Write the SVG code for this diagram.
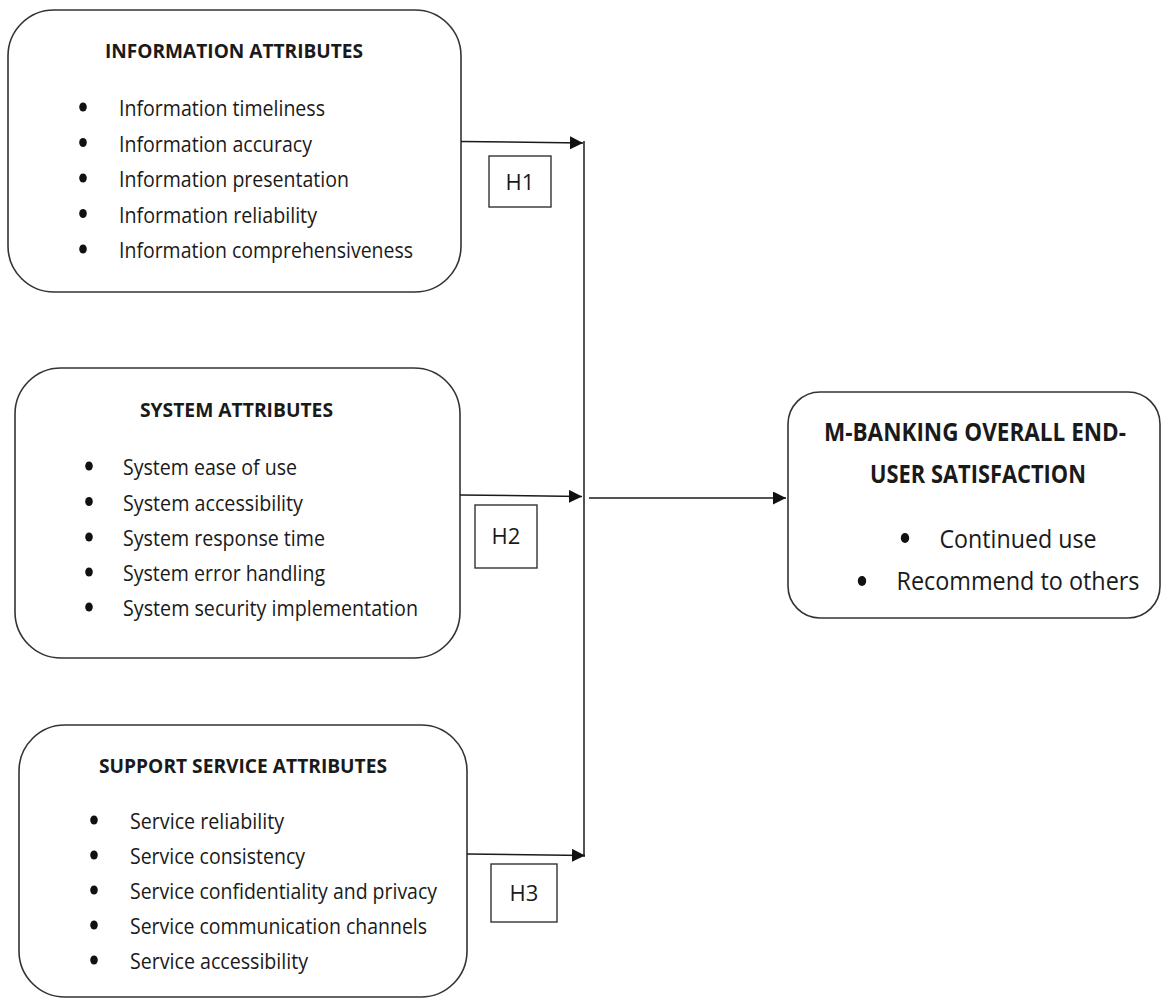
<svg xmlns="http://www.w3.org/2000/svg" width="1161" height="999" viewBox="0 0 1161 999">
  <style>
    .box { fill: #ffffff; stroke: #333333; stroke-width: 1.6; }
    .hbox { fill: #ffffff; stroke: #333333; stroke-width: 1.4; }
    .title { font-family: "Open Sans", "Liberation Sans", sans-serif; font-weight: bold; font-size: 19px; fill: #1a1a1a; }
    .item { font-family: "Open Sans", "Liberation Sans", sans-serif; font-size: 21.5px; fill: #1a1a1a; }
    .big { font-family: "Open Sans", "Liberation Sans", sans-serif; font-weight: bold; font-size: 25px; fill: #1a1a1a; text-anchor: middle; }
    .bigitem { font-family: "Open Sans", "Liberation Sans", sans-serif; font-size: 25px; fill: #1a1a1a; text-anchor: middle; }
    .hlabel { font-family: "Open Sans", "Liberation Sans", sans-serif; font-size: 22px; fill: #1a1a1a; text-anchor: middle; }
    .dot { fill: #111111; }
    .link { fill: none; stroke: #1a1a1a; stroke-width: 1.5; }
  </style>
  <defs>
    <marker id="arrow" viewBox="0 0 13 13" refX="13" refY="6.5" markerWidth="13" markerHeight="13" markerUnits="userSpaceOnUse" orient="auto">
      <path d="M0,0 L13,6.5 L0,13 Z" fill="#111111"/>
    </marker>
  </defs>

  <rect width="1161" height="999" fill="#ffffff"/>

  <!-- Information attributes -->
  <g id="info">
    <rect class="box" x="8" y="10" width="453" height="282" rx="46" ry="46"/>
    <text class="title" x="105" y="58" textLength="258" lengthAdjust="spacingAndGlyphs">INFORMATION ATTRIBUTES</text>
    <ellipse class="dot" cx="83" cy="107" rx="3.8" ry="4.6"/>
    <ellipse class="dot" cx="83" cy="142.5" rx="3.8" ry="4.6"/>
    <ellipse class="dot" cx="83" cy="178" rx="3.8" ry="4.6"/>
    <ellipse class="dot" cx="83" cy="213.5" rx="3.8" ry="4.6"/>
    <ellipse class="dot" cx="83" cy="249" rx="3.8" ry="4.6"/>
    <text class="item" x="119" y="116" textLength="206" lengthAdjust="spacingAndGlyphs">Information timeliness</text>
    <text class="item" x="119" y="151.5" textLength="193" lengthAdjust="spacingAndGlyphs">Information accuracy</text>
    <text class="item" x="119" y="187" textLength="230" lengthAdjust="spacingAndGlyphs">Information presentation</text>
    <text class="item" x="119" y="222.5" textLength="198" lengthAdjust="spacingAndGlyphs">Information reliability</text>
    <text class="item" x="119" y="258" textLength="294" lengthAdjust="spacingAndGlyphs">Information comprehensiveness</text>
  </g>

  <!-- System attributes -->
  <g id="system">
    <rect class="box" x="15" y="368" width="445" height="290" rx="46" ry="46"/>
    <text class="title" x="140" y="417" textLength="193" lengthAdjust="spacingAndGlyphs">SYSTEM ATTRIBUTES</text>
    <ellipse class="dot" cx="89" cy="466" rx="3.8" ry="4.6"/>
    <ellipse class="dot" cx="89" cy="501.5" rx="3.8" ry="4.6"/>
    <ellipse class="dot" cx="89" cy="537" rx="3.8" ry="4.6"/>
    <ellipse class="dot" cx="89" cy="572" rx="3.8" ry="4.6"/>
    <ellipse class="dot" cx="89" cy="607" rx="3.8" ry="4.6"/>
    <text class="item" x="123" y="475" textLength="174" lengthAdjust="spacingAndGlyphs">System ease of use</text>
    <text class="item" x="123" y="510.5" textLength="180" lengthAdjust="spacingAndGlyphs">System accessibility</text>
    <text class="item" x="123" y="546" textLength="202" lengthAdjust="spacingAndGlyphs">System response time</text>
    <text class="item" x="123" y="581" textLength="202" lengthAdjust="spacingAndGlyphs">System error handling</text>
    <text class="item" x="123" y="616" textLength="295" lengthAdjust="spacingAndGlyphs">System security implementation</text>
  </g>

  <!-- Support service attributes -->
  <g id="support">
    <rect class="box" x="19" y="725" width="448" height="272" rx="46" ry="46"/>
    <text class="title" x="99" y="773" textLength="288" lengthAdjust="spacingAndGlyphs">SUPPORT SERVICE ATTRIBUTES</text>
    <ellipse class="dot" cx="94" cy="820" rx="3.8" ry="4.6"/>
    <ellipse class="dot" cx="94" cy="855" rx="3.8" ry="4.6"/>
    <ellipse class="dot" cx="94" cy="890" rx="3.8" ry="4.6"/>
    <ellipse class="dot" cx="94" cy="925" rx="3.8" ry="4.6"/>
    <ellipse class="dot" cx="94" cy="960" rx="3.8" ry="4.6"/>
    <text class="item" x="130" y="829" textLength="154" lengthAdjust="spacingAndGlyphs">Service reliability</text>
    <text class="item" x="130" y="864" textLength="175" lengthAdjust="spacingAndGlyphs">Service consistency</text>
    <text class="item" x="130" y="899" textLength="307" lengthAdjust="spacingAndGlyphs">Service confidentiality and privacy</text>
    <text class="item" x="130" y="934" textLength="297" lengthAdjust="spacingAndGlyphs">Service communication channels</text>
    <text class="item" x="130" y="969" textLength="178" lengthAdjust="spacingAndGlyphs">Service accessibility</text>
  </g>

  <!-- Outcome -->
  <g id="satisfaction">
    <rect class="box" x="788" y="392" width="372" height="226" rx="32" ry="32"/>
    <text class="big" x="975" y="441" textLength="302" lengthAdjust="spacingAndGlyphs">M-BANKING OVERALL END-</text>
    <text class="big" x="978" y="483" textLength="216" lengthAdjust="spacingAndGlyphs">USER SATISFACTION</text>
    <ellipse class="dot" cx="905" cy="538" rx="4.2" ry="5"/>
    <ellipse class="dot" cx="862" cy="581" rx="4.2" ry="5"/>
    <text class="bigitem" x="1018" y="548" textLength="157" lengthAdjust="spacingAndGlyphs">Continued use</text>
    <text class="bigitem" x="1018" y="590" textLength="243" lengthAdjust="spacingAndGlyphs">Recommend to others</text>
  </g>

  <!-- Hypothesis labels -->
  <g id="h1">
    <rect class="hbox" x="489" y="156" width="62" height="51"/>
    <text class="hlabel" x="520" y="190">H1</text>
  </g>
  <g id="h2">
    <rect class="hbox" x="475" y="505" width="62" height="63"/>
    <text class="hlabel" x="506" y="544">H2</text>
  </g>
  <g id="h3">
    <rect class="hbox" x="491" y="864" width="66" height="58"/>
    <text class="hlabel" x="524" y="901">H3</text>
  </g>

  <!-- Connectors -->
  <g id="connectors">
    <line class="link" x1="461" y1="141.5" x2="583" y2="143" marker-end="url(#arrow)"/>
    <line class="link" x1="460" y1="495" x2="582" y2="496.5" marker-end="url(#arrow)"/>
    <line class="link" x1="467" y1="854" x2="585" y2="855.5" marker-end="url(#arrow)"/>
    <line class="link" x1="584" y1="141" x2="584" y2="857"/>
    <line class="link" x1="589" y1="498" x2="786" y2="498" marker-end="url(#arrow)"/>
  </g>
</svg>
